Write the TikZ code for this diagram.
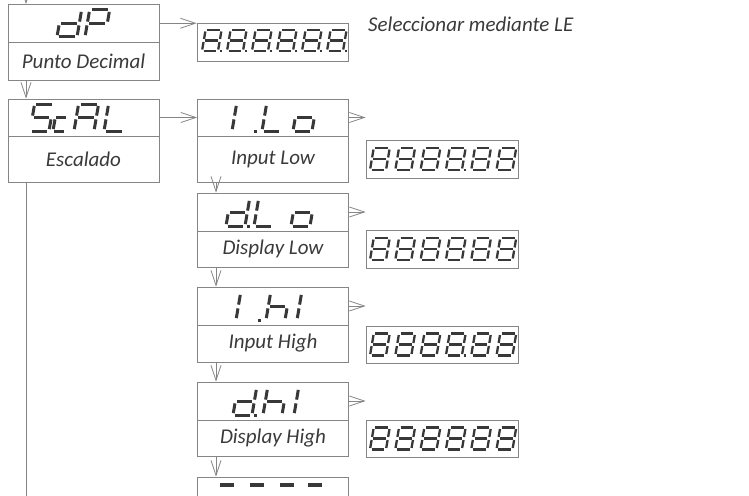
\documentclass[tikz,border=0pt]{standalone}
\usepackage{fontspec}
\setmainfont{Carlito}
\usetikzlibrary{arrows.meta}
\definecolor{ln}{HTML}{858585}
\definecolor{tx}{HTML}{3A3A3A}
\definecolor{sg}{HTML}{383838}
\tikzset{
  segline/.style={draw=sg, line cap=butt},
  box/.style={draw=ln, line width=0.8pt, rectangle, inner sep=0pt, minimum width=151pt},
  lab/.style={box, font=\itshape\fontsize{21}{24}\selectfont, text=tx},
  arr/.style={draw=ln, line width=0.8pt, -{Straight Barb[length=15pt,width=10pt]}},
  plain/.style={draw=ln, line width=0.8pt},
  note/.style={font=\itshape\fontsize{21}{24}\selectfont, text=tx, inner sep=0pt}
}
% seven-segment pieces (unit cell, y measured downward)
\newcommand\ssA{\draw[segline] (0.1,-1)--(0.9,-1);}
\newcommand\ssB{\draw[segline] (1,-0.93)--(1,-0.57);}
\newcommand\ssC{\draw[segline] (1,-0.43)--(1,-0.07);}
\newcommand\ssD{\draw[segline] (0.1,0)--(0.9,0);}
\newcommand\ssE{\draw[segline] (0,-0.07)--(0,-0.43);}
\newcommand\ssF{\draw[segline] (0,-0.57)--(0,-0.93);}
\newcommand\ssG{\draw[segline] (0.1,-0.5)--(0.9,-0.5);}
\newcommand\ssP{\draw[segline] (1.12,0)--(1.25,0);}
\newcommand\sseight{\ssA\ssB\ssC\ssD\ssE\ssF\ssG}
\newcommand\glyph[6]{\begin{scope}[shift={(#1,#2)},xslant=0.17,xscale=#3,yscale=#4,line width=#5]#6\end{scope}}
\begin{document}
\begin{tikzpicture}[x=1pt,y=-1pt]
\useasboundingbox (0,0) rectangle (749,495);
\clip (0,0) rectangle (749,495);
\coordinate (lc) at (26,0);
\coordinate (rc) at (216,0);
\coordinate (topin) at (26,-20);
\coordinate (lend) at (26,505);

% left column
\node[box, minimum height=37.5pt] (dP) at (83.5,23.25) {};
\node[lab, minimum height=38pt] (dPl) at (83.5,61) {Punto Decimal};
\node[box, minimum height=37pt] (ScAL) at (83.5,117.5) {};
\node[lab, minimum height=46pt] (ScALl) at (83.5,159) {Escalado};

% right column
\node[box, minimum height=37pt] (ILo) at (273,117.5) {};
\node[lab, minimum height=46pt] (ILol) at (273,159) {Input Low};
\node[box, minimum height=38pt] (dLo) at (273,212) {};
\node[lab, minimum height=36pt] (dLol) at (273,249) {Display Low};
\node[box, minimum height=38pt] (IhI) at (273,306) {};
\node[lab, minimum height=37pt] (IhIl) at (273,343.5) {Input High};
\node[box, minimum height=38pt] (dhI) at (273,401) {};
\node[lab, minimum height=36pt] (dhIl) at (273,438) {Display High};
\node[box, minimum height=38pt] (dash) at (273,496) {};

% display boxes
\node[box, minimum height=38pt] (disp0) at (272.5,42) {};
\node[box, minimum width=152pt, minimum height=38pt] (disp1) at (442,159.5) {};
\node[box, minimum width=152pt, minimum height=38pt] (disp2) at (442,249) {};
\node[box, minimum width=152pt, minimum height=37pt] (disp3) at (442,344.5) {};
\node[box, minimum width=152pt, minimum height=37pt] (disp4) at (442,438.5) {};

\node[note, anchor=base west] (sel) at (368,32) {Seleccionar mediante LE};

% connectors
\draw[arr] (topin) -- (dP.north -| topin);
\draw[arr] (dPl.south -| lc) -- (ScAL.north -| lc);
\draw[plain] (ScALl.south -| lc) -- (lend);
\draw[arr] (dP.east) -- (dP.east -| disp0.west);
\draw[arr] (ScAL.east) -- (ILo.west);
\draw[arr] (ILo.east) -- (ILo.east -| disp1.west);
\draw[arr] (dLo.east) -- (dLo.east -| disp2.west);
\draw[arr] (IhI.east) -- (IhI.east -| disp3.west);
\draw[arr] (dhI.east) -- (dhI.east -| disp4.west);
\draw[arr] (ILol.south -| rc) -- (dLo.north -| rc);
\draw[arr] (dLol.south -| rc) -- (IhI.north -| rc);
\draw[arr] (IhIl.south -| rc) -- (dhI.north -| rc);
\draw[arr] (dhIl.south -| rc) -- (dash.north -| rc);

% big glyphs
\glyph{57}{37}{20}{27}{3pt}{\ssB\ssC\ssD\ssE\ssG}
\glyph{85}{37}{20}{27}{3pt}{\ssA\ssB\ssE\ssF\ssG}

\glyph{30}{131}{19}{27}{3pt}{\ssA\ssF\ssG\ssC\ssD}
\glyph{53}{131}{12}{27}{3pt}{\ssG\ssE\ssD}
\glyph{74}{131}{20}{27}{3pt}{\ssA\ssB\ssC\ssE\ssF\ssG}
\glyph{104}{131}{20}{27}{3pt}{\ssF\ssE\ssD}

\glyph{232}{131}{20}{27}{3pt}{\ssE\ssF\ssP}
\glyph{262}{131}{19}{27}{3pt}{\ssF\ssE\ssD}
\glyph{293}{131}{19}{27}{3pt}{\ssG\ssC\ssD\ssE}

\glyph{226}{226}{19}{27}{3pt}{\ssB\ssC\ssD\ssE\ssG\ssP}
\glyph{254}{226}{19}{27}{3pt}{\ssF\ssE\ssD}
\glyph{291}{226}{19}{27}{3pt}{\ssG\ssC\ssD\ssE}

\glyph{236}{320}{20}{27}{3pt}{\ssE\ssF\ssP}
\glyph{266}{320}{19}{27}{3pt}{\ssF\ssE\ssG\ssC}
\glyph{297}{320}{19}{27}{3pt}{\ssE\ssF}

\glyph{233}{415}{19}{27}{3pt}{\ssB\ssC\ssD\ssE\ssG\ssP}
\glyph{263}{415}{19}{27}{3pt}{\ssF\ssE\ssG\ssC}
\glyph{294}{415}{19}{27}{3pt}{\ssE\ssF}

\glyph{216}{498.5}{17}{27}{3.2pt}{\ssG}
\glyph{246}{498.5}{17}{27}{3.2pt}{\ssG}
\glyph{276}{498.5}{17}{27}{3.2pt}{\ssG}
\glyph{304}{498.5}{17}{27}{3.2pt}{\ssG}

% small display glyphs
\foreach \k in {0,...,5}{\glyph{202+25*\k}{51}{16}{21}{2.3pt}{\sseight\ssP}}
\foreach \k in {0,1,2,4,5}{\glyph{370+25.3*\k}{170}{16}{22}{2.3pt}{\sseight}}
\glyph{445.9}{170}{16}{22}{2.3pt}{\sseight\ssP}
\foreach \k in {0,...,5}{\glyph{370+25.3*\k}{260}{16}{22}{2.3pt}{\sseight}}
\foreach \k in {0,1,2,4,5}{\glyph{370+25.3*\k}{355.5}{16}{22}{2.3pt}{\sseight}}
\glyph{445.9}{355.5}{16}{22}{2.3pt}{\sseight\ssP}
\foreach \k in {0,...,5}{\glyph{370+25.3*\k}{449.5}{16}{22}{2.3pt}{\sseight}}
\end{tikzpicture}
\end{document}
